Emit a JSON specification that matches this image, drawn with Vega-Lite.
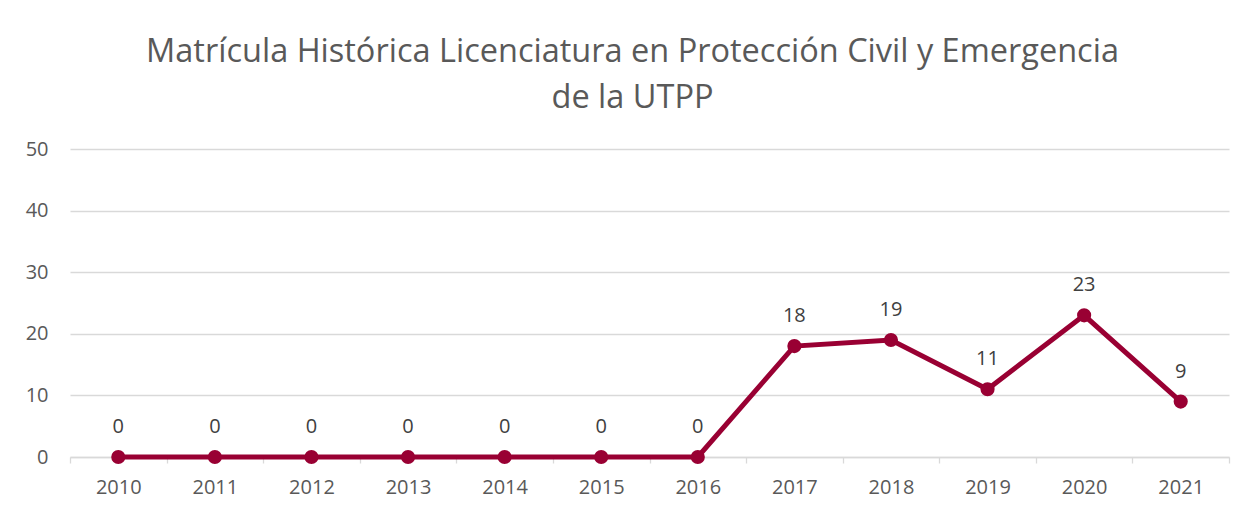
{
  "$schema": "https://vega.github.io/schema/vega-lite/v6.json",
  "autosize": "none",
  "width": 1159,
  "height": 308,
  "padding": {"left": 70, "top": 149, "right": 28, "bottom": 59},
  "background": "white",
  "config": {
    "view": {"stroke": null},
    "font": "Open Sans"
  },
  "title": {
    "text": ["Matrícula Histórica Licenciatura en Protección Civil y Emergencia", "de la UTPP"],
    "font": "Open Sans",
    "fontSize": 32.5,
    "fontWeight": "normal",
    "color": "#595959",
    "anchor": "middle",
    "frame": "group",
    "dx": -17,
    "offset": 25,
    "lineHeight": 46
  },
  "data": {
    "values": [
      {"year": "2010", "value": 0},
      {"year": "2011", "value": 0},
      {"year": "2012", "value": 0},
      {"year": "2013", "value": 0},
      {"year": "2014", "value": 0},
      {"year": "2015", "value": 0},
      {"year": "2016", "value": 0},
      {"year": "2017", "value": 18},
      {"year": "2018", "value": 19},
      {"year": "2019", "value": 11},
      {"year": "2020", "value": 23},
      {"year": "2021", "value": 9}
    ]
  },
  "encoding": {
    "x": {
      "field": "year",
      "type": "ordinal",
      "scale": {"type": "band", "paddingInner": 0, "paddingOuter": 0},
      "axis": {
        "title": null,
        "labelAngle": 0,
        "labelFont": "Open Sans",
        "labelFontSize": 20,
        "labelColor": "#595959",
        "labelPadding": 14,
        "domainColor": "#d9d9d9",
        "domainWidth": 1.3,
        "tickColor": "#d9d9d9",
        "tickWidth": 1.3,
        "tickSize": 6,
        "tickBand": "extent",
        "grid": false
      }
    },
    "y": {
      "field": "value",
      "type": "quantitative",
      "scale": {"domain": [0, 50], "nice": false},
      "axis": {
        "title": null,
        "values": [0, 10, 20, 30, 40, 50],
        "labelFont": "Open Sans",
        "labelFontSize": 20,
        "labelColor": "#595959",
        "labelPadding": 22,
        "domain": false,
        "ticks": false,
        "grid": true,
        "gridColor": "#d9d9d9",
        "gridWidth": 1.3
      }
    }
  },
  "layer": [
    {
      "mark": {"type": "line", "color": "#990033", "strokeWidth": 5}
    },
    {
      "mark": {"type": "point", "filled": true, "color": "#990033", "size": 200, "opacity": 1}
    },
    {
      "mark": {"type": "text", "dy": -24, "baseline": "alphabetic", "font": "Open Sans", "fontSize": 20, "color": "#404040"},
      "encoding": {"text": {"field": "value", "type": "quantitative"}}
    }
  ]
}
